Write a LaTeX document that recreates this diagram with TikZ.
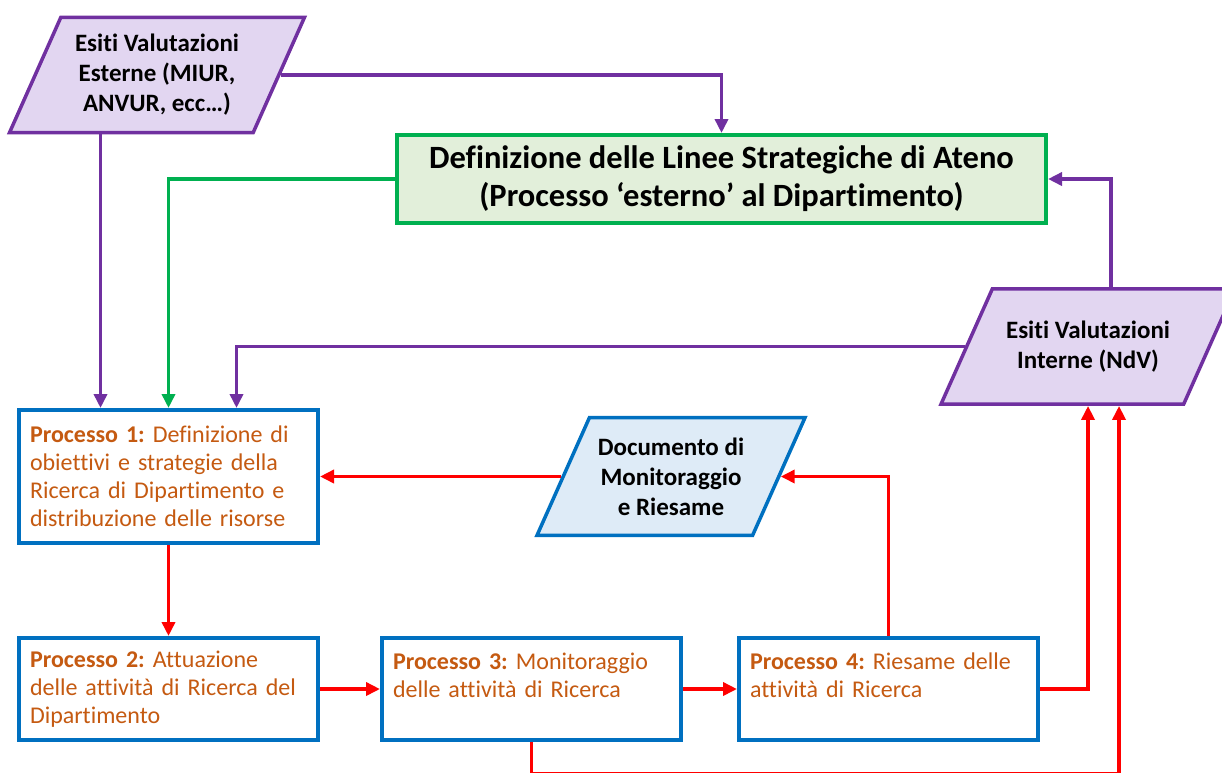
\documentclass[tikz,border=0pt]{standalone}
\usepackage{fontspec}
\setmainfont{Carlito}[Ligatures=CommonOff]
\usetikzlibrary{arrows.meta}
\usetikzlibrary{positioning,shapes.geometric}
\definecolor{viola}{HTML}{7030A0}
\definecolor{lilla}{HTML}{E2D6F1}
\definecolor{verde}{HTML}{00B050}
\definecolor{verdino}{HTML}{E2EFDA}
\definecolor{blu}{HTML}{0070C0}
\definecolor{azzurro}{HTML}{DEEBF7}
\definecolor{arancio}{HTML}{C55A11}
\tikzset{
    esito/.style={
        trapezium,
        trapezium left angle=66,
        trapezium right angle=114,
        trapezium stretches body,
        draw=viola,
        fill=lilla,
        line width=3.5pt,
        align=center,
        font=\bfseries\fontsize{25}{30}\selectfont
    },
    processo/.style={
        rectangle,
        draw=blu,
        fill=white,
        line width=4pt,
        minimum width=299,
        text width=277,
        align=left,
        text=arancio,
        font=\fontsize{24}{28}\selectfont
    },
    freccia/.style={
        line width=3.5pt,
        -{Triangle[length=14pt, width=13pt]}
    }
}

\begin{document}
\frenchspacing
\begin{tikzpicture}[x=1pt, y=-1pt]
    \useasboundingbox (0,0) rectangle (1222,772);
    % Nodi
    \node[esito, minimum width=295, inner ysep=17] (esterne) at (157,75)
        {Esiti Valutazioni\\Esterne (MIUR,\\ANVUR, ecc…)};
    \node[draw=verde, fill=verdino, line width=4pt, minimum width=649, minimum height=88,
        align=center, font=\bfseries\fontsize{32.5}{38}\selectfont] (linee) at (721.5,179)
        {Definizione delle Linee Strategiche di Ateno\\(Processo ‘esterno’ al Dipartimento)};
    \node[esito, minimum width=294, inner ysep=32] (interne) at (1088,346.5)
        {Esiti Valutazioni\\Interne (NdV)};
    \node[esito, draw=blu, fill=azzurro, minimum width=268, inner ysep=20] (doc) at (671,476.5)
        {Documento di\\Monitoraggio\\e Riesame};
    \node[processo, minimum height=133] (p1) at (168.5,476.5)
        {\textbf{Processo 1:} Definizione di obiettivi e strategie della Ricerca di Dipartimento e distribuzione delle risorse};
    \node[processo, minimum height=102] (p2) at (168.5,689)
        {\textbf{Processo 2:} Attuazione delle attività di Ricerca del Dipartimento};
    \node[processo, minimum height=102] (p3) at (531.5,689)
        {\textbf{Processo 3:} Monitoraggio\\delle attività di Ricerca\\\mbox{}};
    \node[processo, minimum height=102] (p4) at (888.5,689)
        {\textbf{Processo 4:} Riesame delle\\attività di Ricerca\\\mbox{}};

    % Collegamenti
    \coordinate (p1a) at ([xshift=-68]p1.north);
    \coordinate (p1b) at ([xshift=68]p1.north);
    \coordinate (fondo) at ([yshift=-32]p3.south);
    \draw[freccia, viola] (esterne.right side) -| (linee.north);
    \draw[freccia, viola] (p1a |- esterne.south) -- (p1a);
    \draw[freccia, verde] (linee.west) -| (p1.north);
    \draw[freccia, viola] (interne.left side) -| (p1b);
    \draw[freccia, viola] ([xshift=23]interne.north) |- (linee.east);
    \draw[freccia, red] (doc.left side) -- (p1.east);
    \draw[freccia, red] (p4.north) |- (doc.right side);
    \draw[freccia, red] (p1.south) -- (p2.north);
    \draw[freccia, red] (p2.east) -- (p3.west);
    \draw[freccia, red] (p3.east) -- (p4.west);
    \draw[freccia, red] (p4.east) -| (interne.south);
    \draw[freccia, red] (p3.south) -- (fondo) -| ([xshift=31]interne.south);
\end{tikzpicture}
\end{document}
